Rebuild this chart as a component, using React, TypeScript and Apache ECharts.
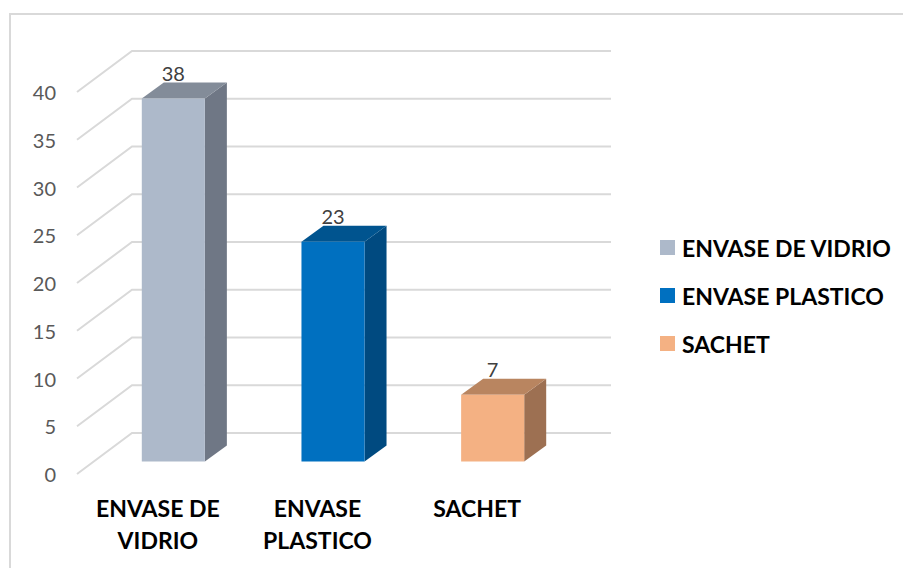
import React, { useEffect, useRef } from "react";
import * as echarts from "echarts";

const categories = ["ENVASE DE VIDRIO", "ENVASE PLASTICO", "SACHET"];
const categoryLabels = ["ENVASE DE\nVIDRIO", "ENVASE\nPLASTICO", "SACHET"];
const values = [38, 23, 7];
const frontColors = ["#ADB9CA", "#0070C0", "#F4B183"];
const sideColors = ["#6F7785", "#004A80", "#9D7052"];
const topColors = ["#838C99", "#00548F", "#B98560"];
const gridTicks = [0, 5, 10, 15, 20, 25, 30, 35, 40];

const FONT = "Lato, Carlito, sans-serif";
const WALL_DX = 55;
const WALL_DY = -41;
const BAR_SHIFT_X = 16.5;
const BAR_SHIFT_Y = -12.5;
const DEPTH_X = 22;
const DEPTH_Y = -16;
const BAR_RATIO = 0.395;

const wallItem = (params: any, api: any) => {
  const cs = params.coordSys;
  const p = api.coord([0, api.value(0)]);
  const y = p[1];
  const x0 = cs.x;
  const x1 = cs.x + cs.width + WALL_DX;
  return {
    type: "polyline",
    silent: true,
    shape: { points: [[x0, y], [x0 + WALL_DX, y + WALL_DY], [x1, y + WALL_DY]] },
    style: { stroke: "#D9D9D9", lineWidth: 2, fill: "none" },
  };
};

const barItem = (i: number) => (_params: any, api: any) => {
  const base = api.coord([api.value(0), 0]);
  const top = api.coord([api.value(0), api.value(1)]);
  const w = api.size([1, 0])[0] * BAR_RATIO;
  const l = base[0] - w / 2 + BAR_SHIFT_X;
  const r = l + w;
  const b = base[1] + BAR_SHIFT_Y;
  const t = top[1] + BAR_SHIFT_Y;
  return {
    type: "group",
    children: [
      {
        type: "polygon",
        shape: { points: [[r, t], [r + DEPTH_X, t + DEPTH_Y], [r + DEPTH_X, b + DEPTH_Y], [r, b]] },
        style: { fill: sideColors[i] },
      },
      {
        type: "polygon",
        shape: { points: [[l, t], [l + DEPTH_X, t + DEPTH_Y], [r + DEPTH_X, t + DEPTH_Y], [r, t]] },
        style: { fill: topColors[i] },
      },
      {
        type: "rect",
        shape: { x: l, y: t, width: w, height: b - t },
        style: { fill: frontColors[i] },
      },
      {
        type: "text",
        x: (l + r) / 2,
        y: t + DEPTH_Y - 10,
        style: {
          text: String(values[i]),
          fill: "#404040",
          font: `20px ${FONT}`,
          align: "center",
          verticalAlign: "middle",
        },
      },
    ],
  };
};

export default function App() {
  const ref = useRef<HTMLDivElement>(null);
  useEffect(() => {
    const chart = echarts.init(ref.current!, undefined, { renderer: "svg" });
    chart.setOption({
      animation: false,
      backgroundColor: "#FFFFFF",
      textStyle: { fontFamily: FONT },
      graphic: [
        {
          type: "rect",
          silent: true,
          shape: { x: 10, y: 14, width: 1000, height: 1000 },
          style: { fill: "none", stroke: "#D9D9D9", lineWidth: 2 },
        },
      ],
      grid: { left: 77, right: 347, top: 92, bottom: 94, containLabel: false },
      legend: {
        data: categories,
        orient: "vertical",
        left: 655,
        top: 231,
        itemWidth: 15,
        itemHeight: 15,
        itemGap: 25,
        icon: "rect",
        selectedMode: false,
        textStyle: { fontFamily: FONT, fontSize: 23, fontWeight: "bold", color: "#000000", padding: [0, 0, 0, 2] },
      },
      xAxis: {
        type: "category",
        data: categories,
        axisLine: { show: false },
        axisTick: { show: false },
        splitLine: { show: false },
        axisLabel: {
          interval: 0,
          margin: 18,
          color: "#000000",
          fontFamily: FONT,
          fontSize: 23,
          fontWeight: "bold",
          lineHeight: 32,
          padding: [0, 0, 0, 2],
          formatter: (_v: string, i: number) => categoryLabels[i],
        },
      },
      yAxis: {
        type: "value",
        min: 0,
        max: 40,
        interval: 5,
        axisLine: { show: false },
        axisTick: { show: false },
        splitLine: { show: false },
        axisLabel: { margin: 21, color: "#595959", fontFamily: FONT, fontSize: 20 },
      },
      series: [
        {
          name: "wall",
          type: "custom",
          renderItem: wallItem,
          data: gridTicks.map((t) => [t]),
          encode: { y: 0 },
          silent: true,
          z: 1,
        },
        ...categories.map((name, i) => ({
          name,
          type: "custom",
          renderItem: barItem(i),
          data: [[name, values[i]]],
          encode: { x: 0, y: 1 },
          itemStyle: { color: frontColors[i] },
          z: 2,
        })),
      ],
    });
    return () => chart.dispose();
  }, []);
  return (
    <div
      ref={ref}
      style={{ position: "fixed", left: 0, top: 0, width: 903, height: 568 }}
    />
  );
}
